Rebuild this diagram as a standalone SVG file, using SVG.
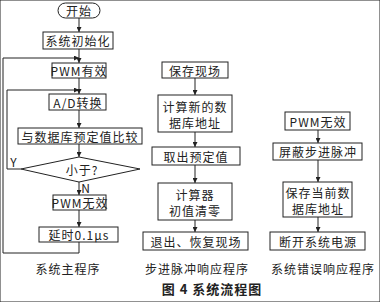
<svg xmlns="http://www.w3.org/2000/svg" width="380" height="302" viewBox="0 0 380 302">
<defs>
<marker id="ah" viewBox="0 0 8 8" refX="8" refY="4" markerWidth="5" markerHeight="5" orient="auto">
<path d="M0,0 L8,4 L0,8 z" fill="#222"/>
</marker>
<style>
rect, .t, polygon { fill: #fff; stroke: #222; stroke-width: 1; }
.c { fill: none; stroke: #222; stroke-width: 1; marker-end: url(#ah); }
.l { fill: none; stroke: #222; stroke-width: 1; }
text { font-family: "Noto Sans CJK SC", "Liberation Serif", serif; font-size: 12px; fill: #222; text-anchor: middle; dominant-baseline: central; letter-spacing: 1px; }
.lab { font-size: 12px; }
.cap { font-size: 13px; font-weight: bold; letter-spacing: 1px; }
</style>
</defs>
<rect width="380" height="302" fill="#fff" stroke="none"/>
<g id="connectors">
<line class="c" x1="79" y1="18" x2="79" y2="32"/>
<line class="c" x1="79" y1="49" x2="79" y2="63"/>
<line class="c" x1="79" y1="78" x2="79" y2="94"/>
<line class="c" x1="79" y1="110" x2="79" y2="128"/>
<line class="c" x1="79" y1="144" x2="79" y2="157"/>
<line class="c" x1="79" y1="182" x2="79" y2="195"/>
<line class="c" x1="79" y1="210" x2="79" y2="227"/>
<polyline class="c" points="79,242 79,253 3,253 3,58 79,58"/>
<polyline class="c" points="21,169 7,169 7,90 79,90"/>
<line class="c" x1="195" y1="78" x2="195" y2="95"/>
<line class="c" x1="195" y1="132" x2="195" y2="147"/>
<line class="c" x1="195" y1="165" x2="195" y2="183"/>
<line class="c" x1="195" y1="220" x2="195" y2="232"/>
<line class="c" x1="318" y1="130" x2="318" y2="143"/>
<line class="c" x1="318" y1="160" x2="318" y2="182"/>
<line class="c" x1="318" y1="217" x2="318" y2="232"/>
<text x="14" y="161" class="lab">Y</text>
<text x="86" y="187" class="lab">N</text>
</g>
<g id="start"><rect x="58" y="3" width="42" height="15" rx="7.5"/><text x="79" y="10.5">开始</text></g>
<g id="init"><rect x="43" y="32" width="70" height="17"/><text x="78" y="40.5">系统初始化</text></g>
<g id="pwm-on"><rect x="52" y="63" width="54" height="15"/><text x="79" y="70.5" letter-spacing="0">PWM有效</text></g>
<g id="ad"><rect x="49" y="94" width="57" height="16"/><text x="78" y="102">A/D转换</text></g>
<g id="compare"><rect x="18" y="128" width="124" height="16"/><text x="80" y="136">与数据库预定值比较</text></g>
<g id="less"><polygon points="79,157 140,169 79,182 21,169"/><text x="82" y="169">小于?</text></g>
<g id="pwm-off"><rect x="53" y="195" width="53" height="15"/><text x="80" y="202.5" letter-spacing="0">PWM无效</text></g>
<g id="delay"><rect x="39" y="227" width="79" height="15"/><text x="79" y="234.5">延时0.1μs</text></g>
<text x="68" y="268" class="lab">系统主程序</text>

<g id="save"><rect x="162" y="62" width="66" height="16"/><text x="195" y="70">保存现场</text></g>
<g id="calc"><rect x="158" y="95" width="74" height="37"/><text x="195" y="106">计算新的数</text><text x="195" y="122">据库地址</text></g>
<g id="fetch"><rect x="152" y="147" width="88" height="18"/><text x="196" y="156">取出预定值</text></g>
<g id="clear"><rect x="158" y="183" width="74" height="37"/><text x="195" y="194">计算器</text><text x="195" y="210">初值清零</text></g>
<g id="exit"><rect x="143" y="232" width="105" height="18"/><text x="196" y="241">退出、恢复现场</text></g>
<text x="197" y="268" class="lab">步进脉冲响应程序</text>

<g id="pwm-off2"><rect x="285" y="112" width="65" height="18"/><text x="318" y="121" letter-spacing="0">PWM无效</text></g>
<g id="mask"><rect x="273" y="143" width="89" height="17"/><text x="318" y="151.5">屏蔽步进脉冲</text></g>
<g id="savecur"><rect x="283" y="182" width="69" height="35"/><text x="318" y="192">保存当前数</text><text x="318" y="208">据库地址</text></g>
<g id="power"><rect x="270" y="232" width="95" height="18"/><text x="318" y="241">断开系统电源</text></g>
<text x="323" y="268" class="lab">系统错误响应程序</text>

<text x="212" y="288" class="cap">图 4  系统流程图</text>
</svg>
